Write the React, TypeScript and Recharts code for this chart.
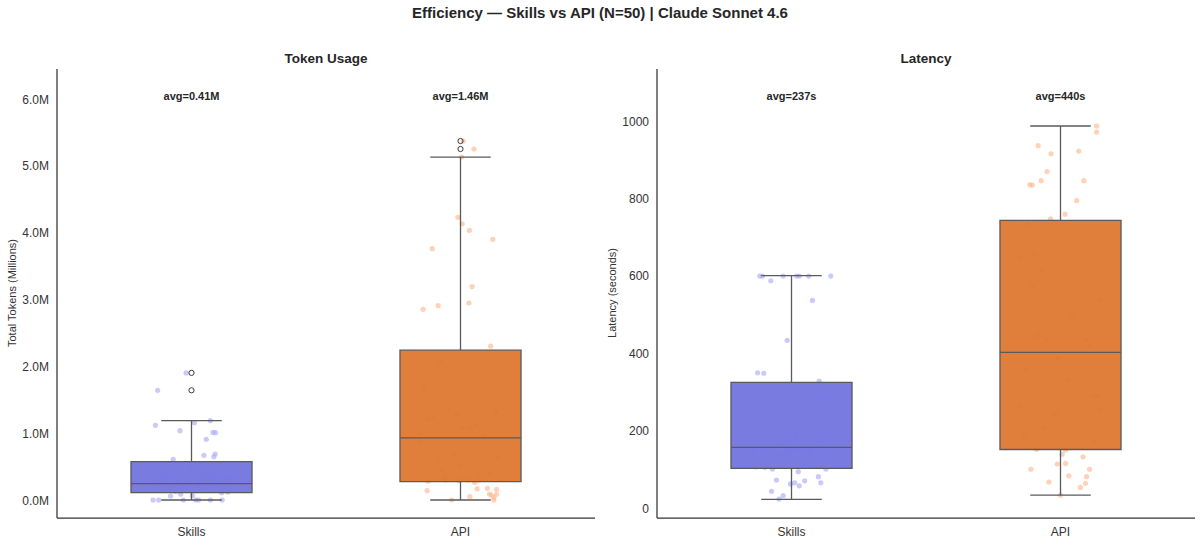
import React from 'react';
import { ComposedChart, XAxis, YAxis, Scatter, ReferenceArea, ReferenceLine } from 'recharts';

const FONT = '"Liberation Sans", Arial, Helvetica, sans-serif';

const categories = ['Skills', 'API'];
const boxColors = ['#7374DF', '#DE7731'];
const pointColors = ['#A6A7F7', '#FDB487'];

// ---- Token usage (millions) : [value, jitter offset in category units]
const tokenSkillsPoints: [number, number][] = [
  [1.91, -0.02], [1.65, -0.126], [1.127, -0.134], [1.046, -0.043], [1.166, 0.011], [1.196, 0.07],
  [1.02, 0.08], [1.016, 0.089], [0.918, 0.055], [0.678, 0.046], [0.658, 0.083], [0.698, 0.088], [0.619, -0.068],
  [0.51, 0.0], [0.45, 0.105], [0.39, 0.041], [0.37, -0.09], [0.36, 0.142], [0.35, 0.083], [0.34, 0.126],
  [0.335, -0.016], [0.31, -0.11], [0.29, 0.06], [0.28, -0.05], [0.27, 0.12], [0.26, -0.14],
  [0.25, 0.093], [0.24, 0.02], [0.22, -0.071], [0.21, -0.004], [0.2, -0.037], [0.2, 0.03], [0.19, 0.11],
  [0.18, -0.1], [0.17, 0.065], [0.16, -0.13], [0.16, 0.049], [0.14, -0.06], [0.13, 0.135],
  [0.12, 0.112], [0.096, -0.04], [0.075, 0.003], [0.07, -0.078], [0.01, -0.143], [0.01, -0.122],
  [0.01, -0.03], [0.01, 0.016], [0.01, 0.026], [0.01, 0.07], [0.01, 0.114],
];
const tokenApiPoints: [number, number][] = [
  [5.376, 0.01], [5.257, 0.05], [5.137, 0.004], [4.236, -0.01], [4.14, 0.006], [4.04, 0.033], [3.907, 0.12],
  [3.767, -0.105], [3.2, 0.043], [2.955, 0.031], [2.915, -0.083], [2.86, -0.139], [2.31, 0.112],
  [2.08, -0.075], [1.665, -0.136], [1.33, 0.133], [1.366, -0.044], [1.296, -0.013], [1.217, -0.123],
  [1.255, -0.105], [1.082, 0.006], [1.08, 0.037], [1.13, 0.056], [1.016, -0.152], [0.95, 0.09],
  [0.867, -0.152], [0.683, -0.019], [0.649, 0.142], [0.623, -0.081], [0.519, 0.0], [0.459, -0.068],
  [0.4, 0.11], [0.369, -0.056], [0.31, 0.07], [0.309, -0.056], [0.299, -0.006], [0.309, 0.031], [0.29, -0.12],
  [0.27, 0.053], [0.15, -0.124], [0.01, -0.033], [0.06, 0.035], [0.175, 0.062], [0.185, 0.1], [0.1, 0.108],
  [0.17, 0.134], [0.096, 0.134], [0.05, 0.124], [0.01, 0.124], [0.08, 0.115],
];
const tokenQ1 = [0.12, 0.284];
const tokenMedian = [0.255, 0.94];
const tokenQ3 = [0.585, 2.25];
const tokenWhiskerLow = [0.01, 0.01];
const tokenWhiskerHigh = [1.196, 5.137];
const tokenOutliers = [[1.91, 1.65], [5.376, 5.257]];
const tokenAvgLabels = ['avg=0.41M', 'avg=1.46M'];
const tokenTicks = [0, 1, 2, 3, 4, 5, 6];

// ---- Latency (seconds)
const latencySkillsPoints: [number, number][] = [
  [600, -0.118], [600, -0.108], [600, -0.031], [600, 0.019], [600, 0.029], [600, 0.064], [600, 0.146],
  [588, -0.077], [537, 0.078], [434, -0.016], [350, -0.126], [349, -0.103], [329, 0.103],
  [318, 0.025], [284, 0.14], [262.5, -0.07], [225.6, 0.091], [204, 0.1], [192, 0.112], [189, 0.016],
  [179, 0.149], [168, -0.037], [159, 0.0], [159, 0.103], [148, -0.019], [152, 0.015], [149, 0.062],
  [138, -0.046], [135, 0.07], [140, 0.126], [133, -0.105], [120, 0.143], [118, -0.083], [107, -0.133],
  [106, -0.099], [101.5, -0.071], [101.5, 0.128], [150, -0.14], [200, -0.06],
  [94.6, 0.025], [81.7, 0.1], [73, -0.056], [66, 0.109], [63, -0.004], [66, 0.012], [58, 0.029],
  [71, 0.049], [44, -0.074], [32.6, -0.031], [24, -0.046],
];
const latencyApiPoints: [number, number][] = [
  [987.8, 0.134], [972, 0.134], [937, -0.083], [916, -0.035], [923, 0.068], [870, -0.05], [846.5, -0.072],
  [846.5, 0.087], [836, -0.114], [835, -0.105], [795, 0.06], [760, 0.017], [748, -0.037],
  [736, -0.118], [650, -0.149], [659, -0.099], [616, -0.072], [573, -0.105], [540, 0.146], [456, -0.08],
  [445, -0.089], [435, -0.05], [435, 0.093], [422, 0.112], [500, 0.04],
  [387.6, -0.012], [330, 0.025], [288, 0.124], [290, 0.142], [264, -0.149], [256, 0.146], [244, -0.019],
  [207, -0.062], [189, -0.134], [170, 0.124], [152.5, -0.089], [360, -0.13],
  [150.6, 0.019], [140, 0.006], [133, 0.084], [114.5, -0.012], [116, 0.019], [101, -0.11], [101, 0.108],
  [84, 0.031], [81.7, 0.097], [68, -0.043], [64.6, 0.093], [54, 0.074], [34, 0.0],
];
const latencyQ1 = [103, 152];
const latencyMedian = [157.6, 403];
const latencyQ3 = [325.6, 744];
const latencyWhiskerLow = [23, 34];
const latencyWhiskerHigh = [601, 987.8];
const latencyOutliers: number[][] = [[], []];
const latencyAvgLabels = ['avg=237s', 'avg=440s'];
const latencyTicks = [0, 200, 400, 600, 800, 1000];

const BOX_HALF = 0.225;
const CAP_HALF = 0.1125;
const EDGE = '#5a5a5a';
const TEXT = '#333333';

const makeDot = (color: string) => (props: any) => (
  <circle cx={props.cx} cy={props.cy} r={2.6} fill={color} fillOpacity={0.6} />
);
const outlierShape = (props: any) => (
  <circle cx={props.cx} cy={props.cy} r={2.6} fill="none" stroke="#3a3a3a" strokeWidth={1} />
);
const avgShape = (props: any) => (
  <text
    x={props.cx}
    y={props.cy}
    textAnchor="middle"
    dominantBaseline="central"
    fontFamily={FONT}
    fontWeight="bold"
    fontSize={11}
    fill="#262626"
  >
    {props.payload.label}
  </text>
);

type PanelProps = {
  left: number;
  title: string;
  yLabel: string;
  domain: [number, number];
  ticks: number[];
  tickFmt: (v: number) => string;
  groups: [number, number][][];
  q1: number[];
  med: number[];
  q3: number[];
  wLo: number[];
  wHi: number[];
  outliers: number[][];
  avgY: number;
  avgLabels: string[];
};

function Panel(p: PanelProps) {
  const W = 600;
  const H = 545;
  return (
    <div style={{ position: 'absolute', left: p.left, top: 0, width: W, height: H }}>
      <div
        style={{
          position: 'absolute', left: 57, width: 538, top: 51, lineHeight: '16px', textAlign: 'center',
          fontFamily: FONT, fontWeight: 'bold', fontSize: 13.5, color: '#262626',
        }}
      >
        {p.title}
      </div>
      <div
        style={{
          position: 'absolute', left: 12, top: 293, transform: 'translate(-50%, -50%) rotate(-90deg)',
          whiteSpace: 'nowrap', fontFamily: FONT, fontSize: 11, color: TEXT,
        }}
      >
        {p.yLabel}
      </div>
      <ComposedChart width={W} height={H} margin={{ top: 69, right: 5, bottom: 0, left: 0 }}>
        <XAxis
          type="number"
          dataKey="x"
          domain={[-0.5, 1.5]}
          ticks={[0, 1]}
          allowDataOverflow
          tickFormatter={(v: number) => categories[v] ?? ''}
          height={27}
          tickLine={false}
          tickSize={0}
          tickMargin={9}
          axisLine={{ stroke: '#333', strokeWidth: 1.25 }}
          tick={{ fill: TEXT, fontSize: 12, fontFamily: FONT }}
        />
        <YAxis
          type="number"
          dataKey="y"
          domain={p.domain}
          ticks={p.ticks}
          allowDataOverflow
          interval={0}
          tickFormatter={p.tickFmt}
          width={57}
          tickLine={false}
          tickSize={0}
          tickMargin={8}
          axisLine={{ stroke: '#333', strokeWidth: 1.25 }}
          tick={{ fill: TEXT, fontSize: 12, fontFamily: FONT }}
        />
        {p.groups.map((g, i) => (
          <Scatter
            key={'pts' + i}
            data={g.map(([v, o]) => ({ x: i + o, y: v }))}
            shape={makeDot(pointColors[i])}
            isAnimationActive={false}
            zIndex={50}
          />
        ))}
        {categories.map((_, i) => (
          <ReferenceArea
            key={'box' + i}
            x1={i - BOX_HALF}
            x2={i + BOX_HALF}
            y1={p.q1[i]}
            y2={p.q3[i]}
            fill={boxColors[i]}
            fillOpacity={0.95}
            stroke={EDGE}
            strokeWidth={1.3}
            ifOverflow="visible"
            zIndex={100}
          />
        ))}
        {categories.map((_, i) => (
          <ReferenceLine key={'wu' + i} segment={[{ x: i, y: p.q3[i] }, { x: i, y: p.wHi[i] }]} stroke={EDGE} strokeWidth={1.3} ifOverflow="visible" zIndex={400} />
        ))}
        {categories.map((_, i) => (
          <ReferenceLine key={'wl' + i} segment={[{ x: i, y: p.wLo[i] }, { x: i, y: p.q1[i] }]} stroke={EDGE} strokeWidth={1.3} ifOverflow="visible" zIndex={400} />
        ))}
        {categories.map((_, i) => (
          <ReferenceLine key={'cu' + i} segment={[{ x: i - CAP_HALF, y: p.wHi[i] }, { x: i + CAP_HALF, y: p.wHi[i] }]} stroke={EDGE} strokeWidth={1.3} ifOverflow="visible" zIndex={400} />
        ))}
        {categories.map((_, i) => (
          <ReferenceLine key={'cl' + i} segment={[{ x: i - CAP_HALF, y: p.wLo[i] }, { x: i + CAP_HALF, y: p.wLo[i] }]} stroke={EDGE} strokeWidth={1.3} ifOverflow="visible" zIndex={400} />
        ))}
        {categories.map((_, i) => (
          <ReferenceLine key={'md' + i} segment={[{ x: i - BOX_HALF, y: p.med[i] }, { x: i + BOX_HALF, y: p.med[i] }]} stroke={EDGE} strokeWidth={1.3} ifOverflow="visible" zIndex={400} />
        ))}
        <Scatter
          data={p.outliers.flatMap((vals, i) => vals.map((v) => ({ x: i, y: v })))}
          shape={outlierShape}
          isAnimationActive={false}
          zIndex={700}
        />
        <Scatter
          data={p.avgLabels.map((label, i) => ({ x: i, y: p.avgY, label }))}
          shape={avgShape}
          isAnimationActive={false}
          zIndex={800}
        />
      </ComposedChart>
    </div>
  );
}

export default function App() {
  return (
    <div style={{ position: 'fixed', left: 0, top: 0, width: 1200, height: 545, background: '#fff', overflow: 'hidden' }}>
      <div
        style={{
          position: 'absolute', left: 0, top: 4, width: 1200, lineHeight: '18px', textAlign: 'center',
          fontFamily: FONT, fontWeight: 'bold', fontSize: 15, color: '#262626',
        }}
      >
        Efficiency — Skills vs API (N=50) | Claude Sonnet 4.6
      </div>
      <Panel
        left={0}
        title="Token Usage"
        yLabel="Total Tokens (Millions)"
        domain={[-0.259, 6.453]}
        ticks={tokenTicks}
        tickFmt={(v) => v.toFixed(1) + 'M'}
        groups={[tokenSkillsPoints, tokenApiPoints]}
        q1={tokenQ1}
        med={tokenMedian}
        q3={tokenQ3}
        wLo={tokenWhiskerLow}
        wHi={tokenWhiskerHigh}
        outliers={tokenOutliers}
        avgY={6.05}
        avgLabels={tokenAvgLabels}
      />
      <Panel
        left={600}
        title="Latency"
        yLabel="Latency (seconds)"
        domain={[-25, 1135]}
        ticks={latencyTicks}
        tickFmt={(v) => String(v)}
        groups={[latencySkillsPoints, latencyApiPoints]}
        q1={latencyQ1}
        med={latencyMedian}
        q3={latencyQ3}
        wLo={latencyWhiskerLow}
        wHi={latencyWhiskerHigh}
        outliers={latencyOutliers}
        avgY={1065}
        avgLabels={latencyAvgLabels}
      />
    </div>
  );
}
